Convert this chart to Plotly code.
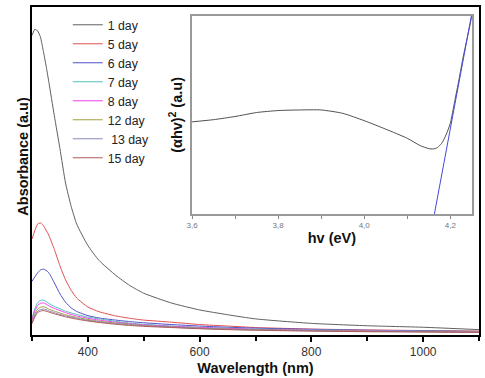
import plotly.graph_objects as go

wavelength = [300, 305, 310, 315, 320, 325, 330, 340, 350, 360, 370, 380, 400, 420,
              450, 475, 500, 550, 600, 650, 700, 800, 900, 1000, 1100]

day1 = [1.005, 1.025, 1.020, 1.000, 0.955, 0.905, 0.850, 0.735, 0.625, 0.510, 0.432, 0.372,
        0.300, 0.250, 0.200, 0.166, 0.140, 0.107, 0.084, 0.068, 0.054, 0.039, 0.031, 0.026, 0.018]
day5 = [0.322, 0.350, 0.372, 0.376, 0.368, 0.352, 0.335, 0.287, 0.232, 0.185, 0.150, 0.124,
        0.094, 0.078, 0.064, 0.056, 0.050, 0.043, 0.035, 0.030, 0.025, 0.020, 0.017, 0.015, 0.013]
day6 = [0.180, 0.195, 0.208, 0.218, 0.221, 0.217, 0.209, 0.175, 0.138, 0.110, 0.091, 0.079,
        0.065, 0.057, 0.050, 0.045, 0.041, 0.035, 0.030, 0.026, 0.023, 0.019, 0.016, 0.014, 0.012]
day7 = [0.055, 0.088, 0.108, 0.116, 0.117, 0.113, 0.106, 0.096, 0.088, 0.080, 0.074, 0.069,
        0.060, 0.054, 0.046, 0.040, 0.036, 0.030, 0.026, 0.023, 0.020, 0.017, 0.015, 0.013, 0.011]
day8 = [0.050, 0.081, 0.099, 0.106, 0.108, 0.104, 0.098, 0.089, 0.082, 0.075, 0.069, 0.064,
        0.056, 0.050, 0.043, 0.038, 0.034, 0.029, 0.025, 0.022, 0.019, 0.016, 0.014, 0.012, 0.010]
day12 = [0.044, 0.070, 0.087, 0.093, 0.095, 0.092, 0.087, 0.080, 0.074, 0.068, 0.063, 0.059,
         0.052, 0.046, 0.040, 0.036, 0.032, 0.027, 0.023, 0.020, 0.018, 0.015, 0.013, 0.011, 0.010]
day13 = [0.040, 0.064, 0.080, 0.085, 0.087, 0.085, 0.081, 0.075, 0.069, 0.064, 0.060, 0.056,
         0.049, 0.044, 0.038, 0.034, 0.031, 0.026, 0.022, 0.019, 0.017, 0.014, 0.012, 0.011, 0.009]
day15 = [0.038, 0.060, 0.075, 0.080, 0.082, 0.080, 0.077, 0.071, 0.066, 0.061, 0.057, 0.053,
         0.047, 0.042, 0.036, 0.032, 0.029, 0.025, 0.021, 0.018, 0.016, 0.013, 0.011, 0.010, 0.009]

series_names = ["1 day", "5 day", "6 day", "7 day", "8 day", "12 day", " 13 day", "15 day"]
series_values = [day1, day5, day6, day7, day8, day12, day13, day15]
series_colors = ["#606060", "#e05050", "#5050c8", "#50c0c0", "#f040f0", "#a0a040", "#8a8ab8", "#b05a5a"]

x_tick_vals = [400, 600, 800, 1000]
x_tick_text = ["400", "600", "800", "1000"]

# Inset: Tauc plot
hv = [3.60, 3.65, 3.70, 3.75, 3.80, 3.85, 3.90, 3.95, 4.00, 4.05, 4.10, 4.13, 4.15, 4.16,
      4.17, 4.18, 4.19, 4.20, 4.21, 4.22, 4.23, 4.24, 4.25]
ahv2 = [0.465, 0.476, 0.492, 0.512, 0.522, 0.525, 0.525, 0.508, 0.471, 0.428, 0.382, 0.345,
        0.330, 0.328, 0.335, 0.357, 0.399, 0.458, 0.567, 0.677, 0.794, 0.896, 1.000]
fit_hv = [4.163, 4.249]
fit_val = [0.0, 1.0]
inset_tick_vals = [3.6, 3.8, 4.0, 4.2]
inset_tick_text = ["3,6", "3,8", "4,0", "4,2"]

FONT = "Arial, Liberation Sans, sans-serif"

fig = go.Figure()
for name, vals, col in zip(series_names, series_values, series_colors):
    fig.add_trace(go.Scatter(x=wavelength, y=vals, name=name, mode="lines",
                             line=dict(color=col, width=1, shape="spline", smoothing=0.5)))

fig.add_trace(go.Scatter(x=hv, y=ahv2, mode="lines", showlegend=False,
                         line=dict(color="#505050", width=1, shape="spline", smoothing=0.6),
                         xaxis="x2", yaxis="y2"))
fig.add_trace(go.Scatter(x=fit_hv, y=fit_val, mode="lines", showlegend=False,
                         line=dict(color="#4848d8", width=1),
                         xaxis="x2", yaxis="y2"))

fig.update_layout(
    width=485, height=378,
    margin=dict(l=32, r=6, t=7, b=43),
    paper_bgcolor="white", plot_bgcolor="white",
    font=dict(family=FONT, color="#222"),
    xaxis=dict(range=[300, 1100], tickvals=x_tick_vals, ticktext=x_tick_text,
               ticks="outside", ticklen=5, tickwidth=1.5, tickcolor="black",
               minor=dict(tickvals=[300, 500, 700, 900, 1100], ticks="outside", ticklen=4,
                          tickwidth=1.5, tickcolor="black"),
               showline=True, linecolor="black", linewidth=2, mirror=True,
               showgrid=False, zeroline=False, automargin=False,
               tickfont=dict(size=12, color="#333"),
               title=dict(text="<b>Wavelength (nm)</b>", font=dict(size=14.5, color="#111"),
                          standoff=4)),
    yaxis=dict(range=[0, 1.1], showticklabels=False, ticks="",
               showline=True, linecolor="black", linewidth=2, mirror=True,
               showgrid=False, zeroline=False, automargin=False),
    xaxis2=dict(domain=[0.358, 0.984], anchor="y2", range=[3.6, 4.25],
                tickvals=inset_tick_vals, ticktext=inset_tick_text,
                ticks="outside", ticklen=3, tickwidth=1, tickcolor="#888",
                minor=dict(tickvals=[3.7, 3.9, 4.1], ticks="outside", ticklen=3,
                           tickwidth=1, tickcolor="#888"),
                showline=True, linecolor="#999", linewidth=1.5, mirror=True,
                showgrid=False, zeroline=False, automargin=False,
                tickfont=dict(size=8, color="#777"),
                title=dict(text="<b>hv (eV)</b>", font=dict(size=14.5, color="#111"),
                           standoff=4)),
    yaxis2=dict(domain=[0.369, 0.973], anchor="x2", range=[0, 1],
                showticklabels=False, ticks="",
                showline=True, linecolor="#999", linewidth=1.5, mirror=True,
                showgrid=False, zeroline=False, automargin=False,
                title=dict(text="<b>(αhv)<sup>2</sup> (a.u)</b>",
                           font=dict(size=14.5, color="#111"), standoff=4)),
    legend=dict(x=0.08, y=0.99, xanchor="left", yanchor="top",
                bgcolor="rgba(0,0,0,0)", font=dict(size=12.3, color="#222"),
                tracegroupgap=0, itemwidth=30),
    annotations=[dict(text="<b>Absorbance (a.u)</b>", xref="paper", yref="paper",
                      x=-0.043, y=0.546, textangle=-90, showarrow=False,
                      font=dict(size=14.5, color="#111"))],
)

fig.write_html("out.html", config={"displayModeBar": False},
               post_script="document.body.style.margin='0px';")
